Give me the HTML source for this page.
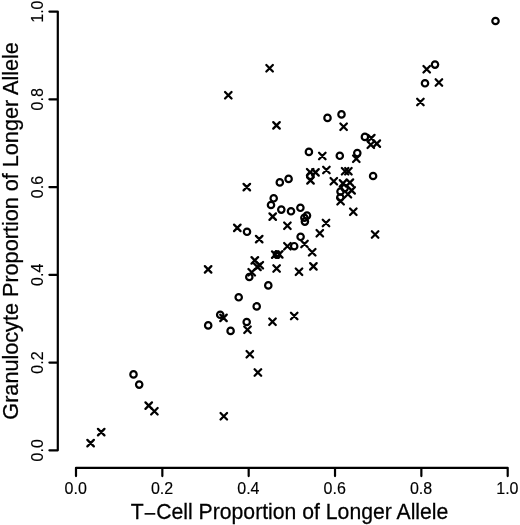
<!DOCTYPE html>
<html><head><meta charset="utf-8"><style>
html,body{margin:0;padding:0;background:#fff;width:520px;height:525px;overflow:hidden}
svg{display:block}
text{font-family:"Liberation Sans",Arial,sans-serif;fill:#000}
</style></head><body>
<svg width="520" height="525" viewBox="0 0 520 525">
<rect width="520" height="525" fill="#fff"/>
<g fill="none" stroke="#000" stroke-width="2.2" stroke-linecap="round" stroke-linejoin="round">
<path d="M76.0 467.8H507.7M76.00 467.8V476.1M162.34 467.8V476.1M248.68 467.8V476.1M335.02 467.8V476.1M421.36 467.8V476.1M507.70 467.8V476.1"/><path d="M57.8 450.3V11.6M57.8 450.30H49.4M57.8 362.56H49.4M57.8 274.82H49.4M57.8 187.08H49.4M57.8 99.34H49.4M57.8 11.60H49.4"/>
</g>
<g font-size="16" text-anchor="middle" stroke="#000" stroke-width="0.15">
<text x="75.70" y="494.0">0.0</text><text transform="translate(43.2 450.30) rotate(-90)">0.0</text><text x="162.04" y="494.0">0.2</text><text transform="translate(43.2 362.56) rotate(-90)">0.2</text><text x="248.38" y="494.0">0.4</text><text transform="translate(43.2 274.82) rotate(-90)">0.4</text><text x="334.72" y="494.0">0.6</text><text transform="translate(43.2 187.08) rotate(-90)">0.6</text><text x="421.06" y="494.0">0.8</text><text transform="translate(43.2 99.34) rotate(-90)">0.8</text><text x="507.40" y="494.0">1.0</text><text transform="translate(43.2 11.60) rotate(-90)">1.0</text>
</g>
<g font-size="21.2" text-anchor="middle" stroke="#000" stroke-width="0.25">
<text transform="translate(289.6 519) scale(1 1.02)">T<tspan dy="1.8">&#8722;</tspan><tspan dy="-1.8">Cell Proportion of Longer Allele</tspan></text>
<text transform="translate(17.6 230.9) rotate(-90) scale(1.021 1)">Granulocyte Proportion of Longer Allele</text>
</g>
<g fill="none" stroke="#000" stroke-width="2.2" stroke-linecap="round">
<circle cx="495.5" cy="21.0" r="3.2"/>
<circle cx="435.0" cy="64.6" r="3.2"/>
<path stroke-width="2.3" d="M423.45 65.95L429.95 72.45M423.45 72.45L429.95 65.95"/>
<circle cx="425.0" cy="83.3" r="3.2"/>
<path stroke-width="2.3" d="M435.65 79.25L442.15 85.75M435.65 85.75L442.15 79.25"/>
<path stroke-width="2.3" d="M417.15 98.75L423.65 105.25M417.15 105.25L423.65 98.75"/>
<path stroke-width="2.3" d="M266.35 65.05L272.85 71.55M266.35 71.55L272.85 65.05"/>
<path stroke-width="2.3" d="M225.05 91.95L231.55 98.45M225.05 98.45L231.55 91.95"/>
<path stroke-width="2.3" d="M273.25 122.15L279.75 128.65M273.25 128.65L279.75 122.15"/>
<circle cx="327.5" cy="117.9" r="3.2"/>
<circle cx="341.5" cy="114.4" r="3.2"/>
<path stroke-width="2.3" d="M340.35 123.45L346.85 129.95M340.35 129.95L346.85 123.45"/>
<circle cx="364.9" cy="136.9" r="3.2"/>
<path stroke-width="2.3" d="M368.05 134.85L374.55 141.35M368.05 141.35L374.55 134.85"/>
<path stroke-width="2.3" d="M367.55 141.55L374.05 148.05M367.55 148.05L374.05 141.55"/>
<path stroke-width="2.3" d="M373.55 140.35L380.05 146.85M373.55 146.85L380.05 140.35"/>
<circle cx="357.3" cy="153.1" r="3.2"/>
<circle cx="308.9" cy="151.9" r="3.2"/>
<path stroke-width="2.3" d="M319.05 152.75L325.55 159.25M319.05 159.25L325.55 152.75"/>
<circle cx="339.8" cy="155.8" r="3.2"/>
<path stroke-width="2.3" d="M353.05 155.55L359.55 162.05M353.05 162.05L359.55 155.55"/>
<path stroke-width="2.3" d="M306.95 169.05L313.45 175.55M306.95 175.55L313.45 169.05"/>
<path stroke-width="2.3" d="M312.25 169.15L318.75 175.65M312.25 175.65L318.75 169.15"/>
<circle cx="310.2" cy="176.0" r="3.2"/>
<path stroke-width="2.3" d="M307.25 177.15L313.75 183.65M307.25 183.65L313.75 177.15"/>
<path stroke-width="2.3" d="M323.15 166.75L329.65 173.25M323.15 173.25L329.65 166.75"/>
<path stroke-width="2.3" d="M330.55 178.05L337.05 184.55M330.55 184.55L337.05 178.05"/>
<path stroke-width="2.3" d="M341.85 168.05L348.35 174.55M341.85 174.55L348.35 168.05"/>
<path stroke-width="2.3" d="M345.15 168.05L351.65 174.55M345.15 174.55L351.65 168.05"/>
<circle cx="373.1" cy="176.0" r="3.2"/>
<circle cx="279.8" cy="182.4" r="3.2"/>
<circle cx="288.6" cy="178.9" r="3.2"/>
<circle cx="273.7" cy="198.3" r="3.2"/>
<path stroke-width="2.3" d="M339.75 180.15L346.25 186.65M339.75 186.65L346.25 180.15"/>
<path stroke-width="2.3" d="M346.65 179.35L353.15 185.85M346.65 185.85L353.15 179.35"/>
<path stroke-width="2.3" d="M348.35 187.15L354.85 193.65M348.35 193.65L354.85 187.15"/>
<path stroke-width="2.3" d="M344.65 190.95L351.15 197.45M344.65 197.45L351.15 190.95"/>
<path stroke-width="2.3" d="M337.35 197.95L343.85 204.45M337.35 204.45L343.85 197.95"/>
<circle cx="340.5" cy="191.5" r="3.2"/>
<circle cx="340.3" cy="197.5" r="3.2"/>
<circle cx="344.7" cy="188.1" r="3.2"/>
<path stroke-width="2.3" d="M350.05 208.55L356.55 215.05M350.05 215.05L356.55 208.55"/>
<path stroke-width="2.3" d="M371.85 231.25L378.35 237.75M371.85 237.75L378.35 231.25"/>
<path stroke-width="2.3" d="M243.55 183.85L250.05 190.35M243.55 190.35L250.05 183.85"/>
<circle cx="271.0" cy="205.0" r="3.2"/>
<circle cx="281.3" cy="209.6" r="3.2"/>
<path stroke-width="2.3" d="M269.45 213.35L275.95 219.85M269.45 219.85L275.95 213.35"/>
<circle cx="291.0" cy="211.3" r="3.2"/>
<circle cx="300.4" cy="207.8" r="3.2"/>
<circle cx="307.0" cy="215.6" r="3.2"/>
<circle cx="304.4" cy="217.8" r="3.2"/>
<circle cx="304.9" cy="221.6" r="3.2"/>
<path stroke-width="2.3" d="M284.15 222.55L290.65 229.05M284.15 229.05L290.65 222.55"/>
<path stroke-width="2.3" d="M322.75 219.75L329.25 226.25M322.75 226.25L329.25 219.75"/>
<path stroke-width="2.3" d="M316.55 229.95L323.05 236.45M316.55 236.45L323.05 229.95"/>
<circle cx="300.6" cy="236.8" r="3.2"/>
<path stroke-width="2.3" d="M301.25 240.75L307.75 247.25M301.25 247.25L307.75 240.75"/>
<path stroke-width="2.3" d="M308.95 249.05L315.45 255.55M308.95 255.55L315.45 249.05"/>
<path stroke-width="2.3" d="M284.15 243.05L290.65 249.55M284.15 249.55L290.65 243.05"/>
<circle cx="294.2" cy="246.2" r="3.2"/>
<path stroke-width="2.3" d="M310.15 263.15L316.65 269.65M310.15 269.65L316.65 263.15"/>
<path stroke-width="2.3" d="M295.75 268.55L302.25 275.05M295.75 275.05L302.25 268.55"/>
<path stroke-width="2.3" d="M234.05 224.65L240.55 231.15M234.05 231.15L240.55 224.65"/>
<circle cx="247.0" cy="231.8" r="3.2"/>
<path stroke-width="2.3" d="M255.95 235.85L262.45 242.35M255.95 242.35L262.45 235.85"/>
<path stroke-width="2.3" d="M272.05 251.35L278.55 257.85M272.05 257.85L278.55 251.35"/>
<path stroke-width="2.3" d="M275.95 251.15L282.45 257.65M275.95 257.65L282.45 251.15"/>
<circle cx="277.0" cy="254.6" r="3.2"/>
<path stroke-width="2.3" d="M251.55 257.15L258.05 263.65M251.55 263.65L258.05 257.15"/>
<path stroke-width="2.3" d="M256.55 262.05L263.05 268.55M256.55 268.55L263.05 262.05"/>
<path stroke-width="2.3" d="M254.15 263.65L260.65 270.15M254.15 270.15L260.65 263.65"/>
<path stroke-width="2.3" d="M248.45 268.95L254.95 275.45M248.45 275.45L254.95 268.95"/>
<circle cx="249.3" cy="277.0" r="3.2"/>
<path stroke-width="2.3" d="M273.35 265.25L279.85 271.75M273.35 271.75L279.85 265.25"/>
<circle cx="268.3" cy="285.4" r="3.2"/>
<path stroke-width="2.3" d="M204.85 266.15L211.35 272.65M204.85 272.65L211.35 266.15"/>
<circle cx="238.7" cy="297.3" r="3.2"/>
<circle cx="256.7" cy="306.4" r="3.2"/>
<circle cx="220.2" cy="314.8" r="3.2"/>
<path stroke-width="2.3" d="M220.25 314.65L226.75 321.15M220.25 321.15L226.75 314.65"/>
<circle cx="208.2" cy="325.4" r="3.2"/>
<circle cx="230.6" cy="330.9" r="3.2"/>
<circle cx="246.7" cy="322.0" r="3.2"/>
<path stroke-width="2.3" d="M244.25 326.55L250.75 333.05M244.25 333.05L250.75 326.55"/>
<path stroke-width="2.3" d="M269.25 318.45L275.75 324.95M269.25 324.95L275.75 318.45"/>
<path stroke-width="2.3" d="M290.95 312.75L297.45 319.25M290.95 319.25L297.45 312.75"/>
<path stroke-width="2.3" d="M246.55 350.95L253.05 357.45M246.55 357.45L253.05 350.95"/>
<path stroke-width="2.3" d="M254.65 369.25L261.15 375.75M254.65 375.75L261.15 369.25"/>
<path stroke-width="2.3" d="M220.55 412.95L227.05 419.45M220.55 419.45L227.05 412.95"/>
<circle cx="133.5" cy="374.4" r="3.2"/>
<circle cx="139.2" cy="384.6" r="3.2"/>
<path stroke-width="2.3" d="M145.45 402.35L151.95 408.85M145.45 408.85L151.95 402.35"/>
<path stroke-width="2.3" d="M151.15 408.05L157.65 414.55M151.15 414.55L157.65 408.05"/>
<path stroke-width="2.3" d="M97.95 428.85L104.45 435.35M97.95 435.35L104.45 428.85"/>
<path stroke-width="2.3" d="M87.35 439.85L93.85 446.35M87.35 446.35L93.85 439.85"/>
</g>
</svg>
</body></html>
